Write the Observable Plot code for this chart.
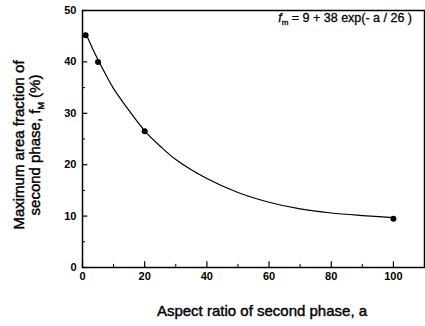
<!DOCTYPE html>
<html><head><meta charset="utf-8">
<script src="https://cdn.jsdelivr.net/npm/d3@7"></script>
<script src="https://cdn.jsdelivr.net/npm/@observablehq/plot@0.6"></script>
<style>body{margin:0;background:#fff}#c{position:relative;width:425px;height:326px}</style>
</head><body><div id="c"></div>
<script>
// measured points
const pointA = [1, 5, 20, 100];
const pointF = [45.2, 40.0, 26.5, 9.5];
// fitted curve
const curveA = [1, 3, 5, 7.5, 10, 12.5, 15, 20, 25, 30, 40, 50, 60, 70, 80, 90, 100];
const curveF = [45.6, 42.9, 40.4, 37.5, 34.8, 32.6, 30.5, 26.6, 23.6, 21.0, 17.3, 14.6, 12.7, 11.4, 10.6, 10.1, 9.7];
const xMajor = [0, 20, 40, 60, 80, 100];
const xMinor = [10, 30, 50, 70, 90];
const yMajor = [0, 10, 20, 30, 40, 50];
const yMinor = [5, 15, 25, 35, 45];
const xLabel = "Aspect ratio of second phase, a";
const yLabel1 = "Maximum area fraction of";
const yLabel2 = "second phase, f";

const pts = pointA.map((a, i) => ({a, f: pointF[i]}));
const crv = curveA.map((a, i) => ({a, f: curveF[i]}));

const font = "'Liberation Sans', Arial, sans-serif";
const chart = Plot.plot({
  width: 425, height: 326,
  marginLeft: 82, marginRight: 1, marginTop: 10, marginBottom: 59,
  style: {fontFamily: font, fontSize: "11px", color: "#000", background: "#fff"},
  x: {domain: [0, 110]},
  y: {domain: [0, 50]},
  marks: [
    Plot.axisX({ticks: xMajor, tickSize: 0, tickPadding: 5, label: null, fontSize: 11, fontWeight: "bold"}),
    Plot.axisY({ticks: yMajor, tickSize: 0, tickPadding: 6, label: null, fontSize: 11, fontWeight: "bold"}),
    Plot.ruleX(xMajor, {x: d => d, y1: 0, y2: 1.1, stroke: "#000", strokeWidth: 1.2}),
    Plot.ruleX(xMinor, {x: d => d, y1: 0, y2: 0.6, stroke: "#000", strokeWidth: 1}),
    Plot.ruleY(yMajor, {y: d => d, x1: 0, x2: 1.7, stroke: "#000", strokeWidth: 1.2}),
    Plot.ruleY(yMinor, {y: d => d, x1: 0, x2: 1, stroke: "#000", strokeWidth: 1}),
    Plot.frame({stroke: "#000", strokeWidth: 1.5}),
    Plot.line(crv, {x: "a", y: "f", curve: "catmull-rom", stroke: "#000", strokeWidth: 1.2}),
    Plot.dot(pts, {x: "a", y: "f", r: 3, fill: "#000", stroke: "none"})
  ]
});
document.getElementById("c").appendChild(chart);
const svg = d3.select(chart);
svg.append("text").attr("x", 262).attr("y", 316).attr("text-anchor", "middle")
  .attr("font-family", font).attr("font-size", 15).attr("fill", "#000")
  .attr("stroke", "#000").attr("stroke-width", 0.4).text(xLabel);
const yl = svg.append("g").attr("transform", "translate(24,145) rotate(-90)")
  .attr("font-family", font).attr("font-size", 15).attr("fill", "#000")
  .attr("stroke", "#000").attr("stroke-width", 0.4).attr("text-anchor", "middle");
yl.append("text").attr("y", 0).text(yLabel1);
const t2 = yl.append("text").attr("y", 16);
t2.append("tspan").text(yLabel2);
t2.append("tspan").attr("font-size", 9).attr("dy", 4).text("M");
t2.append("tspan").attr("dy", -4).text(" (%)");
const fm = svg.append("text").attr("x", 412).attr("y", 22).attr("text-anchor", "end")
  .attr("font-family", font).attr("font-size", 12.5).attr("fill", "#000")
  .attr("stroke", "#000").attr("stroke-width", 0.3);
fm.append("tspan").attr("font-style", "italic").text("f");
fm.append("tspan").attr("font-size", 8).attr("dy", 3).text("m");
fm.append("tspan").attr("dy", -3).text(" = 9 + 38 exp(- a / 26 )");
</script></body></html>
